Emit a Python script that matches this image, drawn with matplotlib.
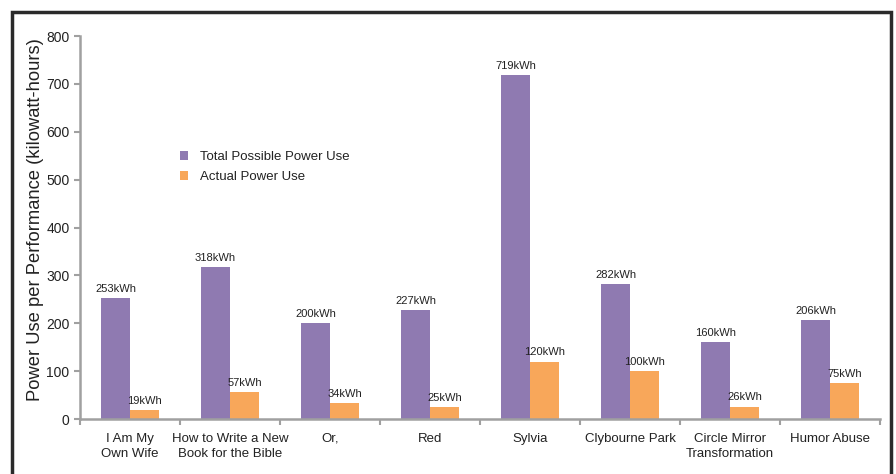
import matplotlib
matplotlib.use('Agg')
import matplotlib.pyplot as plt
import numpy as np
from matplotlib.patches import Rectangle

plt.rcParams['font.family'] = ['Liberation Sans', 'DejaVu Sans']

plays = ['I Am My\nOwn Wife', 'How to Write a New\nBook for the Bible', 'Or,', 'Red',
         'Sylvia', 'Clybourne Park', 'Circle Mirror\nTransformation', 'Humor Abuse']
total_power = [253, 318, 200, 227, 719, 282, 160, 206]
actual_power = [19, 57, 34, 25, 120, 100, 26, 75]

purple = '#8f7ab1'
orange = '#f8a75a'
grey = '#a0a0a0'

fig = plt.figure(figsize=(8.96, 4.74), dpi=100)
ax = fig.add_axes([0.0893, 0.116, 0.893, 0.808])

x = np.arange(len(plays))
w = 0.29
b1 = ax.bar(x - w / 2, total_power, w, color=purple, label='Total Possible Power Use')
b2 = ax.bar(x + w / 2, actual_power, w, color=orange, label='Actual Power Use')

for bars in (b1, b2):
    for r in bars:
        ax.annotate('{}kWh'.format(int(r.get_height())),
                    (r.get_x() + r.get_width() / 2, r.get_height()),
                    xytext=(0, 3), textcoords='offset points',
                    ha='center', va='bottom', fontsize=8, color='#222222')

ax.set_xlim(-0.5, len(plays) - 0.5)
ax.set_ylim(0, 800)
ax.set_yticks(range(0, 801, 100))
ax.set_xticks(x)
ax.set_xticklabels(plays, fontsize=9.5, color='#222222', linespacing=1.35)
ax.set_xticks(np.arange(-0.5, len(plays)), minor=True)
ax.tick_params(axis='x', which='major', length=0, pad=10)
ax.tick_params(axis='x', which='minor', length=4, color=grey, width=1.5)
ax.tick_params(axis='y', length=4, color=grey, width=1.5, labelsize=10, labelcolor='#222222')
ax.set_ylabel('Power Use per Performance (kilowatt-hours)', fontsize=13.2, color='#222222')
ax.yaxis.set_label_coords(-0.045, 0.52)

for s in ('top', 'right'):
    ax.spines[s].set_visible(False)
for s in ('left', 'bottom'):
    ax.spines[s].set_color(grey)
    ax.spines[s].set_linewidth(1.8)

leg = ax.legend(loc='upper left', bbox_to_anchor=(0.11, 0.73), frameon=False,
                fontsize=9.5, handlelength=0.6, handleheight=0.6, handletextpad=0.9,
                labelspacing=0.6)
for t in leg.get_texts():
    t.set_color('#222222')

fig.patches.append(Rectangle((12 / 896, -0.1), 879 / 896, (474 - 12) / 474 + 0.1,
                             transform=fig.transFigure, fill=False,
                             edgecolor='#2a2a2a', linewidth=2.5, clip_on=False))

fig.savefig('out.png', dpi=100)
